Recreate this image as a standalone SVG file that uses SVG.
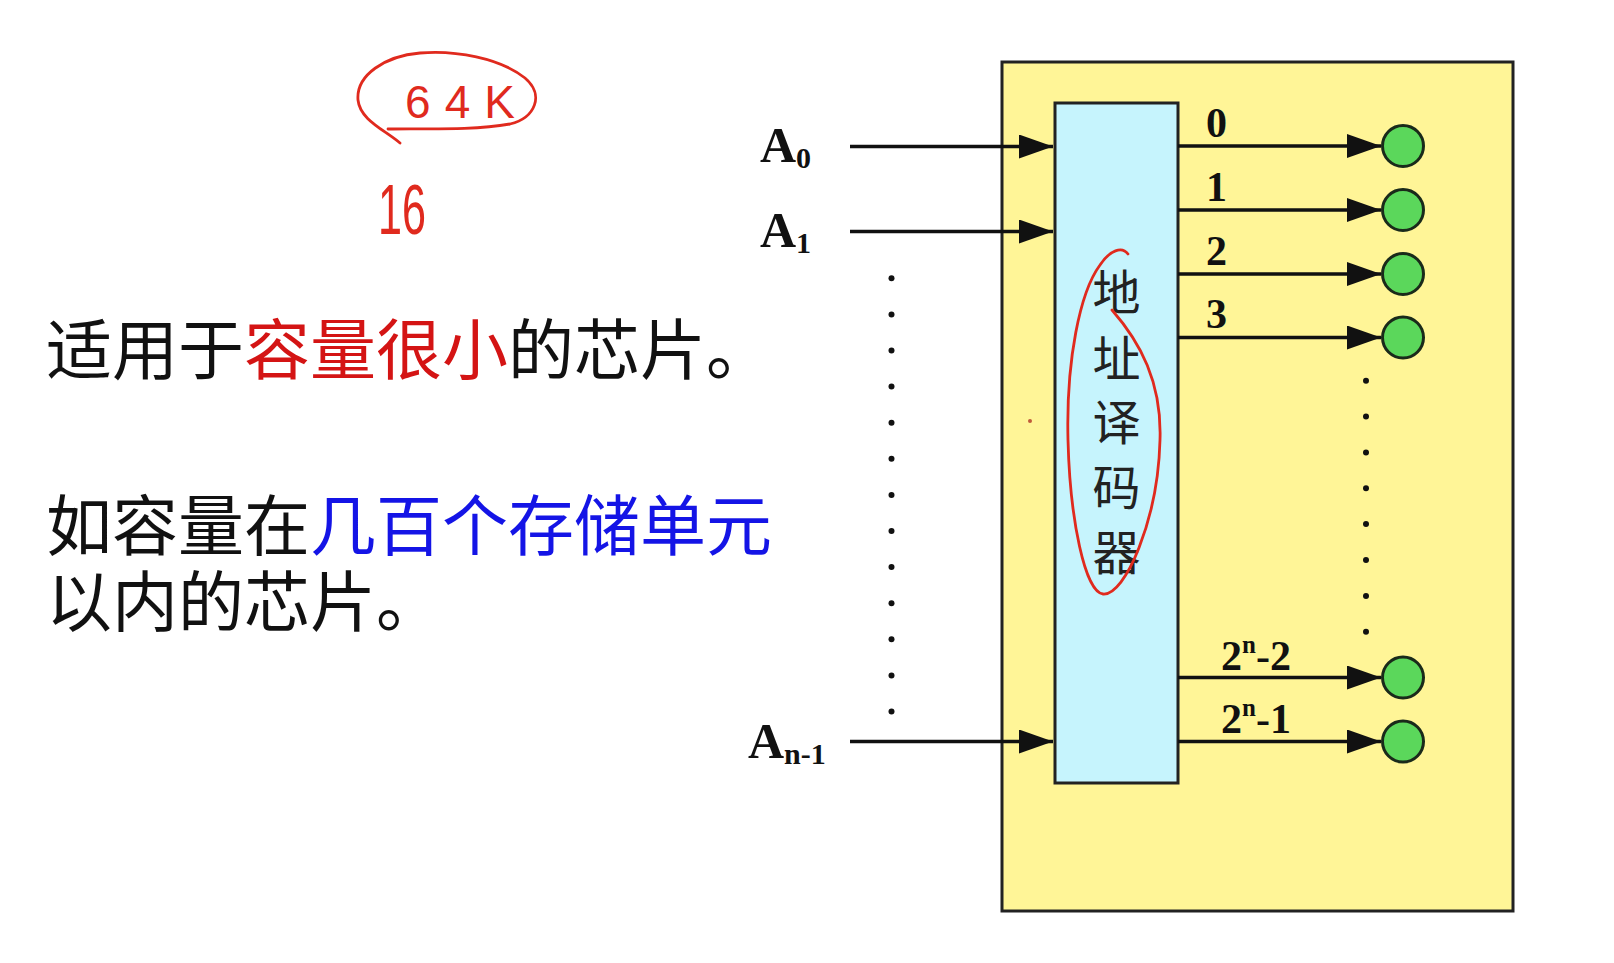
<svg xmlns="http://www.w3.org/2000/svg" width="1614" height="963" viewBox="0 0 1614 963">
<style>
.lbl{font-family:"Liberation Serif","Times New Roman",serif;font-weight:bold;fill:#111}
.cn{font-family:"Noto Sans CJK SC",sans-serif;font-size:66px;fill:#111}
.red{fill:#d41414}
.blue{fill:#1414e6}
.vt{font-family:"Noto Sans CJK SC",sans-serif;font-size:48px;fill:#222;text-anchor:middle}
.wire{stroke:#111;stroke-width:3.5;fill:none}
.dot{fill:#111}
.cell{fill:#5bd75b;stroke:#1a2a1a;stroke-width:3}
.ink{fill:none;stroke:#e02a1e;stroke-width:2.8;stroke-linecap:round;stroke-linejoin:round}
.hand{font-family:"Liberation Sans",sans-serif;fill:#e02a1e}
</style>
<defs>
<marker id="ah" markerUnits="userSpaceOnUse" markerWidth="36" markerHeight="26" refX="34" refY="12" orient="auto">
<path d="M0,0 L34,12 L0,24 Z" fill="#111"/>
</marker>
</defs>
<rect width="1614" height="963" fill="#fff"/>

<g id="text-left">
<text class="cn" x="46" y="374">适用于<tspan class="red">容量很小</tspan>的芯片。</text>
<text class="cn" x="46" y="550">如容量在<tspan class="blue">几百个存储单元</tspan></text>
<text class="cn" x="46" y="626">以内的芯片。</text>
</g>

<g id="chip">
<rect x="1002" y="62" width="511" height="849" fill="#fff597" stroke="#222" stroke-width="3"/>
</g>

<g id="decoder">
<rect x="1055" y="103" width="123" height="680" fill="#c6f4fd" stroke="#222" stroke-width="3"/>
<text class="vt" x="1116.5" y="310">地</text>
<text class="vt" x="1116.5" y="376">址</text>
<text class="vt" x="1116.5" y="440">译</text>
<text class="vt" x="1116.5" y="505">码</text>
<text class="vt" x="1116.5" y="570">器</text>
</g>

<g id="inputs">
<text class="lbl" x="760" y="162" font-size="50">A<tspan font-size="30" dy="6">0</tspan></text>
<text class="lbl" x="760" y="247" font-size="50">A<tspan font-size="30" dy="6">1</tspan></text>
<text class="lbl" x="748" y="758" font-size="50">A<tspan font-size="30" dy="6">n-1</tspan></text>
<g id="input-dots">
<circle class="dot" cx="891.5" cy="278.3" r="3"/>
<circle class="dot" cx="891.5" cy="314.4" r="3"/>
<circle class="dot" cx="891.5" cy="350.5" r="3"/>
<circle class="dot" cx="891.5" cy="386.6" r="3"/>
<circle class="dot" cx="891.5" cy="422.7" r="3"/>
<circle class="dot" cx="891.5" cy="458.8" r="3"/>
<circle class="dot" cx="891.5" cy="494.9" r="3"/>
<circle class="dot" cx="891.5" cy="531.0" r="3"/>
<circle class="dot" cx="891.5" cy="567.1" r="3"/>
<circle class="dot" cx="891.5" cy="603.2" r="3"/>
<circle class="dot" cx="891.5" cy="639.3" r="3"/>
<circle class="dot" cx="891.5" cy="675.4" r="3"/>
<circle class="dot" cx="891.5" cy="711.5" r="3"/>
</g>
</g>

<g id="outputs">
<text class="lbl" x="1206" y="137" font-size="42">0</text>
<text class="lbl" x="1206" y="201" font-size="42">1</text>
<text class="lbl" x="1206" y="265" font-size="42">2</text>
<text class="lbl" x="1206" y="328" font-size="42">3</text>
<text class="lbl" x="1221" y="670" font-size="42">2<tspan font-size="25" dy="-17">n</tspan><tspan dy="17">-2</tspan></text>
<text class="lbl" x="1221" y="733" font-size="42">2<tspan font-size="25" dy="-17">n</tspan><tspan dy="17">-1</tspan></text>
<circle id="cell-0" class="cell" cx="1403" cy="146" r="20.5"/>
<circle id="cell-1" class="cell" cx="1403" cy="210" r="20.5"/>
<circle id="cell-2" class="cell" cx="1403" cy="274" r="20.5"/>
<circle id="cell-3" class="cell" cx="1403" cy="337.5" r="20.5"/>
<circle id="cell-n2" class="cell" cx="1403" cy="677.5" r="20.5"/>
<circle id="cell-n1" class="cell" cx="1403" cy="741.5" r="20.5"/>
<g id="output-dots">
<circle class="dot" cx="1366" cy="380.7" r="3"/>
<circle class="dot" cx="1366" cy="416.6" r="3"/>
<circle class="dot" cx="1366" cy="452.4" r="3"/>
<circle class="dot" cx="1366" cy="488.3" r="3"/>
<circle class="dot" cx="1366" cy="524.1" r="3"/>
<circle class="dot" cx="1366" cy="560.0" r="3"/>
<circle class="dot" cx="1366" cy="595.9" r="3"/>
<circle class="dot" cx="1366" cy="631.7" r="3"/>
</g>
</g>

<g id="connectors">
<line class="wire" x1="850" y1="146.5" x2="1053" y2="146.5" marker-end="url(#ah)"/>
<line class="wire" x1="850" y1="231.5" x2="1053" y2="231.5" marker-end="url(#ah)"/>
<line class="wire" x1="850" y1="741.5" x2="1053" y2="741.5" marker-end="url(#ah)"/>
<line class="wire" x1="1178" y1="146" x2="1381" y2="146" marker-end="url(#ah)"/>
<line class="wire" x1="1178" y1="210" x2="1381" y2="210" marker-end="url(#ah)"/>
<line class="wire" x1="1178" y1="274" x2="1381" y2="274" marker-end="url(#ah)"/>
<line class="wire" x1="1178" y1="337.5" x2="1381" y2="337.5" marker-end="url(#ah)"/>
<line class="wire" x1="1178" y1="677.5" x2="1381" y2="677.5" marker-end="url(#ah)"/>
<line class="wire" x1="1178" y1="741.5" x2="1381" y2="741.5" marker-end="url(#ah)"/>
</g>

<g id="annotations">
<path class="ink" d="M400,143 C385,130 360,120 358,100 C356,75 385,56 420,53 C455,50 500,58 525,78 C545,95 535,118 510,124 C470,131 420,128 388,129"/>
<text class="hand" x="405" y="118" font-size="46" textLength="110" lengthAdjust="spacing">64K</text>
<text class="hand" x="378" y="234" font-size="70" textLength="48" lengthAdjust="spacingAndGlyphs">16</text>
<path class="ink" d="M1128,254 C1122,246 1110,250 1100,265 C1080,292 1066,360 1068,440 C1070,520 1085,592 1103,594 C1125,596 1158,520 1160,440 C1162,382 1140,342 1112,310"/>
<circle cx="1030" cy="421" r="2" fill="#c05a3a"/>
</g>
</svg>
